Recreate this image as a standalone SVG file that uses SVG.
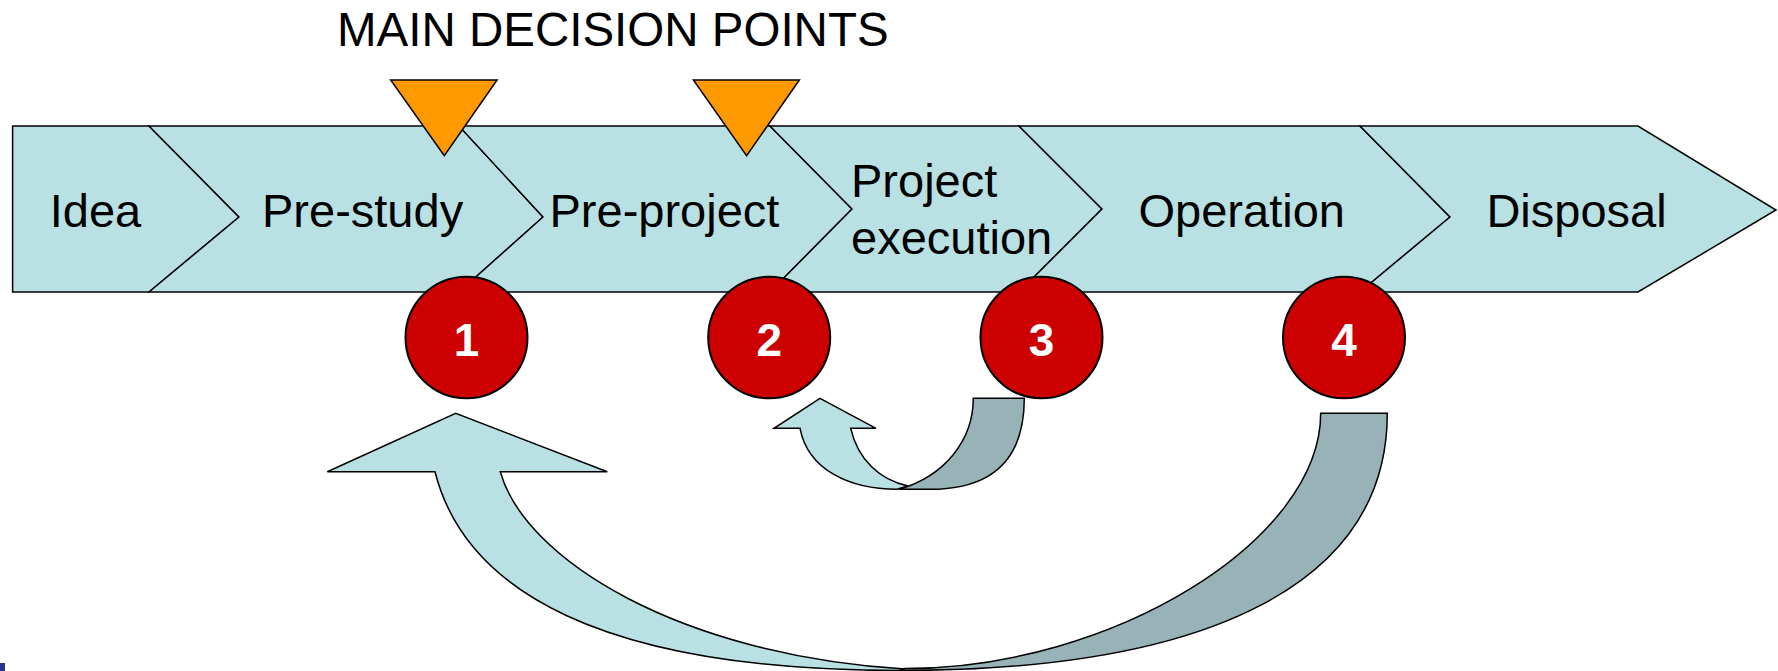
<svg xmlns="http://www.w3.org/2000/svg" width="1778" height="671" viewBox="0 0 1778 671">
  <style>
    .stage { fill: #B9E0E3; stroke: #000; stroke-width: 1.5; stroke-linejoin: miter; }
    .label { font-family: "Liberation Sans", Arial, sans-serif; font-size: 47px; fill: #000; }
    .gate { fill: #FF9900; stroke: #000; stroke-width: 1.5; }
    .point { fill: #CC0000; stroke: #000; stroke-width: 2; }
    .num { font-family: "Liberation Sans", Arial, sans-serif; font-size: 46px; font-weight: bold; fill: #fff; text-anchor: middle; }
    .loop-front { fill: #B9E0E3; stroke: #000; stroke-width: 1.5; stroke-linejoin: miter; }
    .loop-back { fill: #97B3B7; stroke: #000; stroke-width: 1.5; stroke-linejoin: miter; }
  </style>

  <rect width="1778" height="671" fill="#fff"/>

  <!-- title -->
  <text class="label" x="337" y="45.5" style="font-size:47.5px">MAIN DECISION POINTS</text>

  <!-- life-cycle phases -->
  <g id="phase-idea">
    <path class="stage" d="M12.6,126 L149,126 L239,217 L149,292 L12.6,292 Z"/>
    <text class="label" x="49.7" y="227">Idea</text>
  </g>
  <g id="phase-prestudy">
    <path class="stage" d="M149,126 L459,126 L543,217 L459,292 L149,292 L239,217 Z"/>
    <text class="label" x="262" y="227">Pre-study</text>
  </g>
  <g id="phase-preproject">
    <path class="stage" d="M459,126 L770,126 L852,209 L770,292 L459,292 L543,217 Z"/>
    <text class="label" x="549.5" y="227">Pre-project</text>
  </g>
  <g id="phase-execution">
    <path class="stage" d="M770,126 L1019,126 L1102,209 L1019,292 L770,292 L852,209 Z"/>
    <text class="label" x="851" y="196.7">Project</text>
    <text class="label" x="851" y="254">execution</text>
  </g>
  <g id="phase-operation">
    <path class="stage" d="M1019,126 L1360,126 L1450,217 L1360,292 L1019,292 L1102,209 Z"/>
    <text class="label" x="1138.5" y="227">Operation</text>
  </g>
  <g id="phase-disposal">
    <path class="stage" d="M1360,126 L1638,126 L1776,210 L1638,292 L1360,292 L1450,217 Z"/>
    <text class="label" x="1486.4" y="227">Disposal</text>
  </g>

  <!-- main decision gates -->
  <g id="gate-1">
    <path class="gate" d="M390.7,80 L497.1,80 L444.3,155.7 Z"/>
  </g>
  <g id="gate-2">
    <path class="gate" d="M693.4,80 L799.4,80 L746.6,155.7 Z"/>
  </g>

  <!-- numbered decision points -->
  <g id="point-1">
    <ellipse class="point" cx="466.5" cy="337.5" rx="61" ry="60.8"/>
    <text class="num" x="466.5" y="355.5">1</text>
  </g>
  <g id="point-2">
    <ellipse class="point" cx="769.2" cy="337.5" rx="61" ry="60.8"/>
    <text class="num" x="769.2" y="355.5">2</text>
  </g>
  <g id="point-3">
    <ellipse class="point" cx="1041.5" cy="337.5" rx="61" ry="60.8"/>
    <text class="num" x="1041.5" y="355.5">3</text>
  </g>
  <g id="point-4">
    <ellipse class="point" cx="1344" cy="337.5" rx="61" ry="60.8"/>
    <text class="num" x="1344" y="355.5">4</text>
  </g>

  <!-- feedback loops (curved up arrows) -->
  <g id="connectors">
    <!-- from 3 back to 2 -->
    <path class="loop-front" d="M800,428.3 L774,428.3 L820,398.3 L876,428.3 L850.7,428.3 C858,460 880,480 908,486 L897,489.3 C850,489.3 808,470 800,428.3 Z"/>
    <path class="loop-back" d="M973.3,398.3 L1024.3,398.3 C1024.3,440 1010,489.3 930,489.3 L899,489.3 C945,476 973.3,440 973.3,398.3 Z"/>
    <!-- from 4 back to 1 -->
    <path class="loop-front" d="M435,471.7 L327.3,471.7 L455.7,413.3 L607.3,471.7 L500.3,471.7 C525,560 680,655 905,669 L900,670.5 C600,670.5 465,590 435,471.7 Z"/>
    <path class="loop-back" d="M1320.7,413.3 L1387.3,413.3 C1387.3,580 1216.5,670.5 900,670.5 L905,668.5 C1113,668.5 1320.7,540 1320.7,413.3 Z"/>
  </g>

  <!-- corner mark -->
  <rect x="0" y="663" width="5" height="8" fill="#2E3192"/>
</svg>
